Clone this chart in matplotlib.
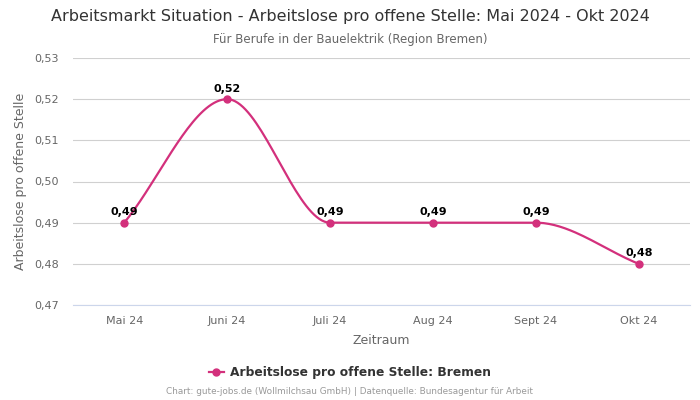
import numpy as np
import matplotlib
matplotlib.use("Agg")
import matplotlib.pyplot as plt
from matplotlib.ticker import FuncFormatter
from matplotlib.lines import Line2D

# ---- Data ----
months = ["Mai 24", "Juni 24", "Juli 24", "Aug 24", "Sept 24", "Okt 24"]
values = [0.49, 0.52, 0.49, 0.49, 0.49, 0.48]
yticks = [0.47, 0.48, 0.49, 0.50, 0.51, 0.52, 0.53]

LINE_COLOR = "#d3307c"


def monotone_curve(x, y, n=40):
    """Fritsch-Carlson monotone cubic, only for drawing the smooth line."""
    x = np.asarray(x, float)
    y = np.asarray(y, float)
    h = np.diff(x)
    d = np.diff(y) / h
    m = np.zeros_like(y)
    m[0], m[-1] = d[0], d[-1]
    for i in range(1, len(y) - 1):
        if d[i - 1] * d[i] <= 0:
            m[i] = 0.0
        else:
            m[i] = 2.0 / (1.0 / d[i - 1] + 1.0 / d[i])
    xs, ys = [], []
    for i in range(len(h)):
        t = np.linspace(0, 1, n)
        h00 = 2 * t**3 - 3 * t**2 + 1
        h10 = t**3 - 2 * t**2 + t
        h01 = -2 * t**3 + 3 * t**2
        h11 = t**3 - t**2
        xs.append(x[i] + t * h[i])
        ys.append(h00 * y[i] + h10 * h[i] * m[i] + h01 * y[i + 1] + h11 * h[i] * m[i + 1])
    return np.concatenate(xs), np.concatenate(ys)


fig = plt.figure(figsize=(7, 4), dpi=100)
ax = fig.add_axes([0.104, 0.2375, 0.882, 0.6175])

x = np.arange(len(months))
cx, cy = monotone_curve(x, values)
ax.plot(cx, cy, color=LINE_COLOR, linewidth=1.6, zorder=3)
ax.plot(x, values, "o", color=LINE_COLOR, markersize=5, zorder=4)

for xi, v in zip(x, values):
    ax.annotate(f"{v:.2f}".replace(".", ","), (xi, v), xytext=(0, 4),
                textcoords="offset points", ha="center", va="bottom",
                fontsize=8, fontweight="bold", color="black", zorder=5)

ax.set_xlim(-0.5, len(months) - 0.5)
ax.set_ylim(0.47, 0.53)
ax.set_yticks(yticks)
ax.yaxis.set_major_formatter(FuncFormatter(lambda v, p: f"{v:.2f}".replace(".", ",")))
ax.set_xticks(x)
ax.set_xticklabels(months)
ax.tick_params(axis="both", length=0, labelsize=8, labelcolor="#666666")
ax.tick_params(axis="x", pad=8)
ax.tick_params(axis="y", pad=10)

ax.grid(axis="y", color="#d0d0d0", linewidth=0.8)
ax.set_axisbelow(True)
for s in ["top", "right", "left"]:
    ax.spines[s].set_visible(False)
ax.spines["bottom"].set_color("#ccd6eb")
ax.spines["bottom"].set_linewidth(0.8)

ax.set_xlabel("Zeitraum", fontsize=9, color="#666666", labelpad=6)
ax.set_ylabel("Arbeitslose pro offene Stelle", fontsize=9, color="#666666", labelpad=5)

fig.text(0.5, 0.958, "Arbeitsmarkt Situation - Arbeitslose pro offene Stelle: Mai 2024 - Okt 2024",
         ha="center", va="center", fontsize=11.5, color="#333333")
fig.text(0.5, 0.902, "Für Berufe in der Bauelektrik (Region Bremen)",
         ha="center", va="center", fontsize=8.5, color="#666666")

handle = Line2D([], [], color=LINE_COLOR, marker="o", markersize=5, linewidth=1.6)
fig.legend([handle], ["Arbeitslose pro offene Stelle: Bremen"], loc="center",
           bbox_to_anchor=(0.5, 0.068), frameon=False, handlelength=1.2,
           handletextpad=0.5, prop={"size": 8.8, "weight": "bold"}, labelcolor="#333333")

fig.text(0.5, 0.02, "Chart: gute-jobs.de (Wollmilchsau GmbH) | Datenquelle: Bundesagentur für Arbeit",
         ha="center", va="center", fontsize=6.4, color="#999999")

fig.savefig("out.png", dpi=100)
